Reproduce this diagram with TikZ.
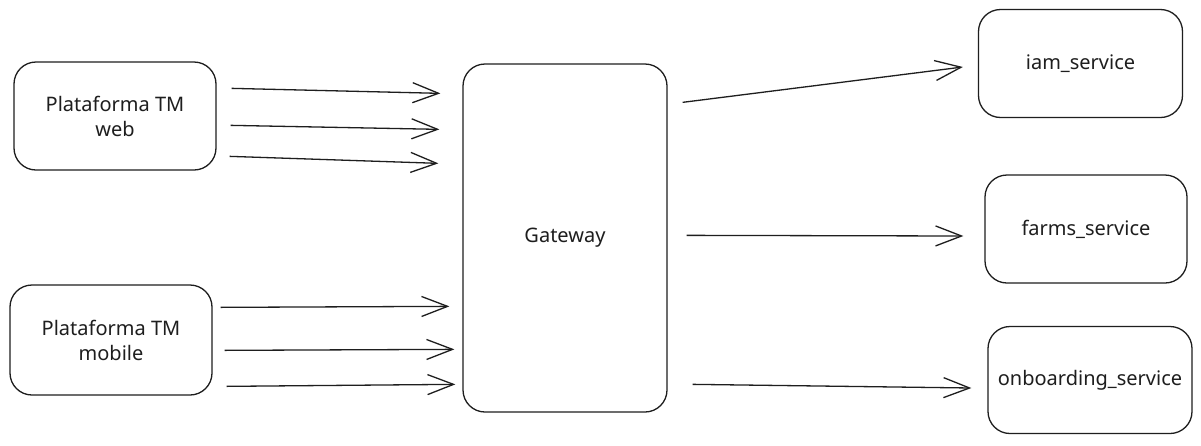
\documentclass[tikz,border=0pt]{standalone}
\usepackage{fontspec}
\setmainfont{Noto Sans}
\usetikzlibrary{arrows.meta}
\definecolor{ink}{HTML}{1E1E1E}
\tikzset{
  box/.style={draw=ink, line width=1.3pt, rounded corners=22pt, inner sep=0pt,
    align=center, text=ink, font=\fontsize{20}{25}\selectfont},
  arr/.style={draw=ink, line width=1.3pt,
    -{Straight Barb[length=26pt,width=20pt,line width=1.3pt]}}
}
\begin{document}
\begin{tikzpicture}[x=1pt,y=-1pt]
\useasboundingbox[fill=white] (0,0) rectangle (1201,445);
\node[box, minimum width=202pt, minimum height=108pt] (web) at (115,116) {Plataforma TM\\web};
\node[box, minimum width=202pt, minimum height=110pt] (mob) at (111,340) {Plataforma TM\\mobile};
\node[box, minimum width=204pt, minimum height=348pt] (gw) at (565,238) {Gateway};
\node[box, minimum width=204pt, minimum height=108pt] (iam) at (1080.5,63.5) {iam\_service};
\node[box, minimum width=202pt, minimum height=108pt] (farms) at (1086,229) {farms\_service};
\node[box, minimum width=204pt, minimum height=107pt] (onb) at (1090,380) {onboarding\_service};

\draw[arr] ([shift={(15,27)}]web.north east) -- ([shift={(-22,30)}]gw.north west);
\draw[arr] ([shift={(14,64)}]web.north east) -- ([shift={(-23,66)}]gw.north west);
\draw[arr] ([shift={(13,95)}]web.north east) -- ([shift={(-24,100)}]gw.north west);

\draw[arr] ([shift={(8,23)}]mob.north east) -- ([shift={(-13,243)}]gw.north west);
\draw[arr] ([shift={(12,66)}]mob.north east) -- ([shift={(-8,286)}]gw.north west);
\draw[arr] ([shift={(14,102)}]mob.north east) -- ([shift={(-7,321)}]gw.north west);

\draw[arr] ([shift={(15,39)}]gw.north east) -- ([shift={(-15,3.5)}]iam.west);
\draw[arr] ([shift={(19,172)}]gw.north east) -- ([shift={(-21,7)}]farms.west);
\draw[arr] ([shift={(25,321)}]gw.north east) -- ([shift={(-16,8)}]onb.west);
\end{tikzpicture}
\end{document}
